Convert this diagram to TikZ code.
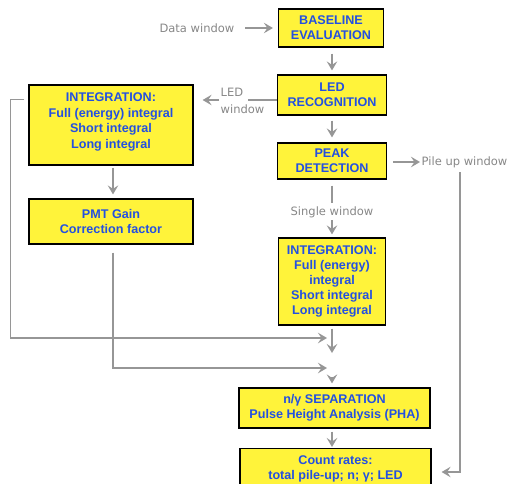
\documentclass[tikz,border=0pt]{standalone}
\usepackage{fontspec}
\setmainfont{Liberation Sans}
\newfontfamily\lblfont{DejaVu Sans}
\usetikzlibrary{arrows.meta}
\definecolor{boxyellow}{RGB}{255,243,58}
\definecolor{boxblue}{RGB}{35,80,225}
\definecolor{flowgray}{RGB}{150,150,150}
\definecolor{lblgray}{RGB}{135,135,135}
\begin{document}
\begin{tikzpicture}[x=1pt,y=-1pt,
  stage/.style={draw=black, line width=1.2pt, fill=boxyellow, text=boxblue,
    font=\bfseries\fontsize{12.6}{15}\selectfont, align=center, inner sep=0pt},
  lbl/.style={text=lblgray, font=\lblfont\fontsize{11.5}{17}\selectfont, inner sep=1.5pt},
  flow/.style={draw=flowgray, line width=1.6pt},
  arr/.style={flow, -{Stealth[length=9pt,width=10.5pt,inset=3.5pt]}}
]
\useasboundingbox (0,0) rectangle (510,483);
\clip (0,0) rectangle (510,483);

% processing stages
\node[stage, minimum width=105pt, minimum height=38pt] (base) at (331,28) {BASELINE\\EVALUATION};
\node[stage, minimum width=109pt, minimum height=40pt] (led) at (332,95) {LED\\RECOGNITION};
\node[stage, minimum width=109pt, minimum height=36pt] (peak) at (332,161) {PEAK\\DETECTION};
\node[stage, minimum width=107pt, minimum height=87pt] (intR) at (332,281.5)
  {INTEGRATION:\\Full (energy)\\integral\\Short integral\\Long integral};
\node[stage, minimum width=164pt, minimum height=80pt,
  font=\bfseries\fontsize{12.6}{15.7}\selectfont] (intL) at (111,125)
  {INTEGRATION:\\Full (energy) integral\\Short integral\\Long integral\\[-6.7pt]};
\node[stage, minimum width=164pt, minimum height=45pt] (pmt) at (111,221.5) {PMT Gain\\Correction factor};
\node[stage, minimum width=191pt, minimum height=40pt] (sep) at (334.5,408)
  {n/γ SEPARATION\\Pulse Height Analysis (PHA)};
\node[stage, minimum width=191pt, anchor=north, inner ysep=7pt] (count) at (335.5,448)
  {Count rates:\\total pile-up; n; γ; LED};

% window labels
\node[lbl, anchor=east] (dw) at (236,28) {Data window};
\node[lbl, anchor=west, align=left] (lw) at (219,101) {LED\\window};
\node[lbl, anchor=west] (pile) at (420,162) {Pile up window};
\node[lbl] (sw) at (332,212) {Single window};

% helper points
\coordinate (lwr) at (248,100);
\coordinate (pv) at (460,172);
\coordinate (pc) at (460,472);
\coordinate (m1) at (332,338);
\coordinate (m2) at (332,368);

% main chain
\draw[arr, shorten <=9pt, shorten >=5pt] (dw) -- (base);
\draw[arr, shorten <=6pt, shorten >=4pt] (base.south -| led.north) -- (led.north);
\draw[arr, shorten <=5pt, shorten >=5pt] (led.south) -- (peak.north);
\draw[flow, shorten <=6pt, shorten >=2pt] (peak.south) -- (sw.north);
\draw[arr, shorten <=1pt, shorten >=3pt] (sw.south) -- (intR.north);

% LED branch
\draw[flow] ([yshift=-5pt]led.west) -- (lwr);
\draw[arr, shorten >=9pt] (lw.west |- lwr) -- (intL.east |- lwr);
\draw[arr, shorten <=2pt, shorten >=4pt] ([xshift=2pt]intL.south) -- ([xshift=2pt]pmt.north);

% pile-up branch
\draw[arr, shorten <=6pt] (peak.east |- pile.west) -- (pile.west);
\draw[arr, shorten >=10pt] (pv) -- (pc) -- (count.east |- pc);

% merging into the separation stage
\draw[arr] ([shift={(-4pt,-15pt)}]intL.north west) -- ++(-14pt,0) |- ([xshift=-5pt]m1);
\draw[arr] ([shift={(2pt,-8pt)}]pmt.south) |- ([xshift=-5pt]m2);
\draw[arr, shorten <=3pt] (intR.south) -- ([yshift=-15pt]m1);
\draw[arr, shorten >=4pt] ([yshift=-9pt]m2) -- (m2 |- sep.north);
\draw[arr, shorten <=3pt, shorten >=1pt] (sep.south -| m2) -- (count.north -| m2);
\end{tikzpicture}
\end{document}
